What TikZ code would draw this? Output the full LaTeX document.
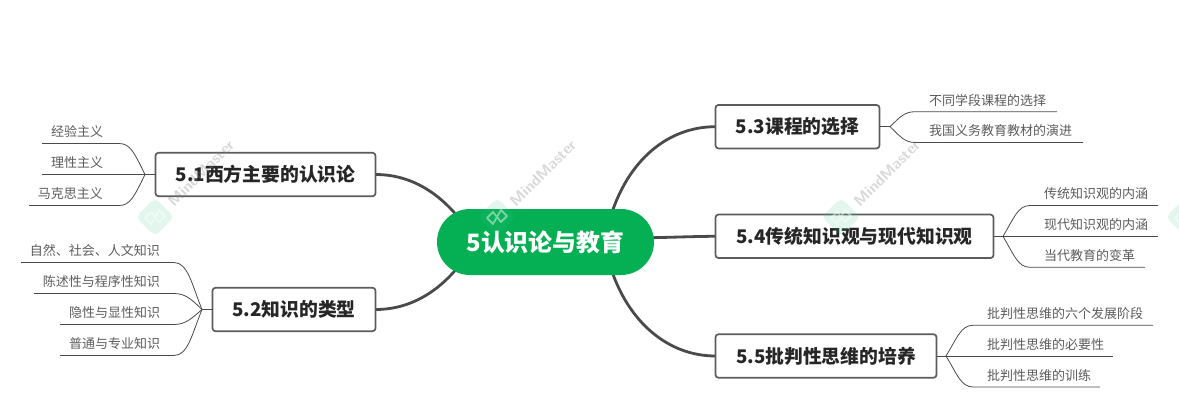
\documentclass[tikz,border=0pt]{standalone}
\usepackage{fontspec}
\setmainfont{Noto Sans CJK SC}
\usetikzlibrary{backgrounds,calc}
\definecolor{rootgreen}{HTML}{05AF54}
\definecolor{linegray}{HTML}{4A4A4A}
\definecolor{textdark}{HTML}{262626}
\definecolor{wmgreen}{HTML}{35C48A}
\tikzset{
  rootnode/.style={fill=rootgreen,text=white,rounded corners=33pt,minimum width=217pt,minimum height=66pt,inner sep=0pt,outer sep=0pt,font=\fontsize{23.9}{26}\selectfont\bfseries},
  topicbox/.style={draw=linegray!90,line width=1.7pt,fill=white,rounded corners=3pt,minimum height=43.5pt,inner sep=0pt,outer sep=0pt,text=textdark,font=\fontsize{18.8}{22}\selectfont\bfseries},
  leafL/.style={anchor=south east,align=right,inner xsep=0pt,inner ysep=5.5pt,outer sep=0pt,text=textdark!75,font=\fontsize{13}{15}\selectfont},
  leafR/.style={anchor=south west,align=left,inner xsep=0pt,inner ysep=5.5pt,outer sep=0pt,text=textdark!75,font=\fontsize{13}{15}\selectfont},
  mainline/.style={draw=linegray,line width=2.8pt},
  leafline/.style={draw=linegray,line width=0.8pt},
  wmlogo/.style={fill=wmgreen,fill opacity=0.14,draw=none,rounded corners=5pt,minimum size=27pt,rotate=45,inner sep=0pt},
  wmtext/.style={text=gray,text opacity=0.3,rotate=45,inner sep=0pt,font=\fontsize{15.5}{17}\selectfont\sffamily\bfseries},
}
\begin{document}
\begin{tikzpicture}[x=1pt,y=-1pt]
\useasboundingbox (0,0) rectangle (1179,408);
\clip (0,0) rectangle (1179,408);
\begin{pgfonlayer}{background}
\fill[white] (0,0) rectangle (1179,408);
\end{pgfonlayer}

% root and topics
\node[rootnode] (root) at (545.5,242) {5认识论与教育};
\node[topicbox,anchor=west,minimum width=220pt] (t1) at (155.5,174.5) {5.1西方主要的认识论};
\node[topicbox,anchor=west,minimum width=163pt] (t2) at (212.5,309.5) {5.2知识的类型};
\node[topicbox,anchor=west,minimum width=164pt] (t3) at (715.5,126.7) {5.3课程的选择};
\node[topicbox,anchor=west,minimum width=278pt] (t4) at (715.5,236.3) {5.4传统知识观与现代知识观};
\node[topicbox,anchor=west,minimum width=221pt] (t5) at (715.5,356) {5.5批判性思维的培养};

% junctions
\coordinate (j1) at (145,174.5);
\coordinate (j2) at (202,309.5);
\coordinate (j3) at (890,126.7);
\coordinate (j4) at (1003,236.3);
\coordinate (j5) at (946,356);

% leaves left
\node[leafL,text width=61pt] (a1) at (103,143.5) {经验主义};
\node[leafL,text width=61pt] (a2) at (103,174.5) {理性主义};
\node[leafL,text width=74pt] (a3) at (103,205.5) {马克思主义};
\node[leafL,text width=139pt] (b1) at (160,262.5) {自然、社会、人文知识};
\node[leafL,text width=126pt] (b2) at (160,293.5) {陈述性与程序性知识};
\node[leafL,text width=100pt] (b3) at (160,324.5) {隐性与显性知识};
\node[leafL,text width=100pt] (b4) at (160,355.5) {普通与专业知识};

% leaves right
\node[leafR,text width=128pt] (c1) at (929,111.7) {不同学段课程的选择};
\node[leafR,text width=154pt] (c2) at (929,142.5) {我国义务教育教材的演进};
\node[leafR,text width=114pt] (d1) at (1044,205.5) {传统知识观的内涵};
\node[leafR,text width=114pt] (d2) at (1044,236.3) {现代知识观的内涵};
\node[leafR,text width=101pt] (d3) at (1044,267.3) {当代教育的变革};
\node[leafR,text width=166pt] (e1) at (987,325.3) {批判性思维的六个发展阶段};
\node[leafR,text width=126pt] (e2) at (987,356) {批判性思维的必要性};
\node[leafR,text width=113pt] (e3) at (987,387) {批判性思维的训练};

\begin{pgfonlayer}{background}
\draw[mainline] (t1.east) .. controls (412,174.5) and (440,194) .. ($(root.center)+(-85,-22)$);
\draw[mainline] (t2.east) .. controls (412,309.5) and (440,290) .. ($(root.center)+(-85,22)$);
\draw[mainline] (t3.west) .. controls (668,126.7) and (628,160) .. ($(root.center)+(65,-25)$);
\draw[mainline] (t4.west) .. controls (695,236.3) and (670,237.5) .. ($(root.center)+(90,-4)$);
\draw[mainline] (t5.west) .. controls (668,356) and (628,322) .. ($(root.center)+(65,25)$);
\end{pgfonlayer}

% leaf connectors
\draw[leafline] (t1.west) -- (j1);
\draw[leafline] (j1) .. controls (134,152) and (130,143.5) .. (119,143.5) -- (a1.south west);
\draw[leafline] (j1) -- (a2.south west);
\draw[leafline] (j1) .. controls (134,197) and (130,205.5) .. (119,205.5) -- (a3.south west);

\draw[leafline] (t2.west) -- (j2);
\draw[leafline] (j2) .. controls (192,285) and (188,262.5) .. (174,262.5) -- (b1.south west);
\draw[leafline] (j2) .. controls (192,300) and (186,293.5) .. (174,293.5) -- (b2.south west);
\draw[leafline] (j2) .. controls (192,318) and (186,324.5) .. (174,324.5) -- (b3.south west);
\draw[leafline] (j2) .. controls (192,334) and (188,355.5) .. (174,355.5) -- (b4.south west);

\draw[leafline] (t3.east) -- (j3);
\draw[leafline] (j3) .. controls (899,118) and (904,111.7) .. (915,111.7) -- (c1.south east);
\draw[leafline] (j3) .. controls (899,135) and (904,142.5) .. (915,142.5) -- (c2.south east);

\draw[leafline] (t4.east) -- (j4);
\draw[leafline] (j4) .. controls (1014,218) and (1018,205.5) .. (1030,205.5) -- (d1.south east);
\draw[leafline] (j4) -- (d2.south east);
\draw[leafline] (j4) .. controls (1014,255) and (1018,267.3) .. (1030,267.3) -- (d3.south east);

\draw[leafline] (t5.east) -- (j5);
\draw[leafline] (j5) .. controls (957,338) and (961,325.3) .. (973,325.3) -- (e1.south east);
\draw[leafline] (j5) -- (e2.south east);
\draw[leafline] (j5) .. controls (957,374) and (961,387) .. (973,387) -- (e3.south east);

% watermarks
\foreach \n/\x in {w1/155,w2/497,w3/841,w4/1185}{
  \node[wmlogo] (\n) at (\x,217) {};
  \draw[white,line width=1.8pt,opacity=0.45,line join=round]
    ($(\n.center)+(-10,1)$) -- ($(\n.center)+(-4,-5)$) -- ($(\n.center)+(4,5)$) -- ($(\n.center)+(10,-1)$)
    -- ($(\n.center)+(4,-7)$) -- ($(\n.center)+(-4,7)$) -- cycle;
}
\foreach \n in {w1,w2,w3}{
  \node[wmtext] (\n t) at ($(\n.center)+(46,-44)$) {MindMaster};
}
\end{tikzpicture}
\end{document}
